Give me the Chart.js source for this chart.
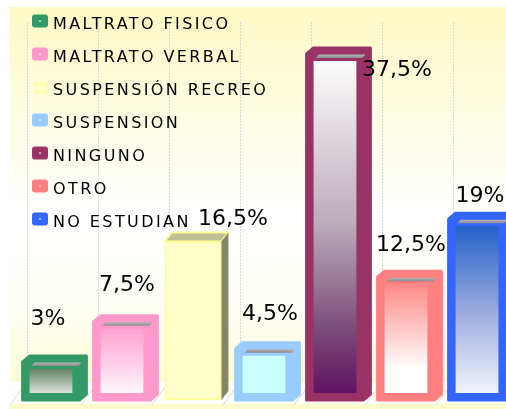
<!DOCTYPE html>
<html><head><meta charset="utf-8">
<script src="https://cdn.jsdelivr.net/npm/chart.js@4/dist/chart.umd.min.js"></script>
<style>html,body{margin:0;padding:0;background:#fff;overflow:hidden;width:506px;height:409px}canvas{display:block}</style>
</head><body><canvas id="c" width="520" height="409"></canvas>
<script>
// ---- data ----
const categories = ['MALTRATO FISICO','MALTRATO VERBAL','SUSPENSIÓN RECREO','SUSPENSION','NINGUNO','OTRO','NO ESTUDIAN'];
const values = [3, 7.5, 16.5, 4.5, 37.5, 12.5, 19];
// ---- styles ----
const borderColors = ['#339966','#ff99cc','#ffff99','#99ccff','#993366','#ff8080','#3366ff'];
const gradStops = [
  [[0,'#3f6a3f'],[1,'#ffffff']],
  [[0,'#ff99cc'],[1,'#ffffff']],
  [[0,'#ffffcc'],[1,'#ffffcc']],
  [[0,'#ccffff'],[1,'#ccffff']],
  [[0,'#ffffff'],[0.5,'#b9aab8'],[0.8,'#7a4a78'],[1,'#5e0c60']],
  [[0,'#ff8080'],[0.75,'#ffffff'],[1,'#ffffff']],
  [[0,'#1a5cc6'],[0.5,'#98a9de'],[1,'#fafafc']]
];
const borderWidths = [7,7,2,7,7,7,7];
const labelDx = [-3,5,40,6,62,5,3];
const labelDy = [-31,-25,-10,-23,28,-20,-11];
const Y_MIN = -1.25, Y_MAX = 41;
const DEPTH = 7, RISE = 6, WALL = 11;

function fmt(v){ return String(v).replace('.', ',') + '%'; }

const bg3d = {
  id:'bg3d',
  beforeDraw(chart){
    const c = chart.ctx, xs = chart.scales.x;
    c.save();
    c.fillStyle = '#ffffff'; c.fillRect(0,0,chart.width,chart.height);
    const g = c.createLinearGradient(0,7,0,382);
    g.addColorStop(0,'#fcfac4'); g.addColorStop(0.55,'#ffffff'); g.addColorStop(0.8,'#fffff6'); g.addColorStop(1,'#fdfbd6');
    c.fillStyle = g; c.fillRect(10,7,chart.width-10,375);
    c.fillStyle = '#fffffa'; c.fillRect(10,382,chart.width-10,22);
    c.fillStyle = '#fdfbcc'; c.fillRect(10,404,chart.width-10,5);
    const half = (xs.getPixelForValue(1)-xs.getPixelForValue(0))/2;
    c.strokeStyle = '#d8d8d8'; c.lineWidth = 1;
    for (let i=0;i<categories.length;i++){
      const b = Math.round(xs.getPixelForValue(i)-half);
      c.setLineDash([2,1]);
      c.beginPath(); c.moveTo(b+WALL+0.5,22); c.lineTo(b+WALL+0.5,382); c.stroke();
      c.setLineDash([]);
      c.beginPath(); c.moveTo(b+WALL,382); c.lineTo(b-6,405); c.stroke();
    }
    c.restore();
  },
  beforeDatasetsDraw(chart){
    const c = chart.ctx, meta = chart.getDatasetMeta(0);
    c.save();
    meta.data.forEach((el,i)=>{
      const p = el.getProps(['x','y','base','width'], true);
      const L = p.x-p.width/2, R = p.x+p.width/2, T = p.y, B = p.base;
      if (borderWidths[i] < 4){
        c.beginPath(); c.moveTo(L,T); c.lineTo(L+DEPTH,T-RISE-3); c.lineTo(R+DEPTH,T-RISE-3); c.lineTo(R,T); c.closePath();
        c.fillStyle = '#bfbf96'; c.fill(); c.strokeStyle = borderColors[i]; c.lineWidth = 2; c.stroke();
        c.beginPath(); c.moveTo(R,T); c.lineTo(R+DEPTH,T-RISE-3); c.lineTo(R+DEPTH,B-RISE-3); c.lineTo(R,B); c.closePath();
        c.fillStyle = '#858568'; c.fill();
      } else {
        c.beginPath(); c.moveTo(L,T); c.lineTo(L+DEPTH,T-RISE); c.lineTo(R+DEPTH,T-RISE); c.lineTo(R+DEPTH,B-RISE); c.lineTo(R,B); c.lineTo(L,B); c.closePath();
        c.fillStyle = borderColors[i]; c.strokeStyle = borderColors[i]; c.lineWidth = 3; c.lineJoin = 'round';
        c.fill(); c.stroke();
      }
    });
    c.restore();
  },
  afterDatasetsDraw(chart){
    const c = chart.ctx, meta = chart.getDatasetMeta(0);
    c.save();
    meta.data.forEach((el,i)=>{
      const p = el.getProps(['x','y','base','width'], true);
      const L = p.x-p.width/2, R = p.x+p.width/2, T = p.y;
      if (borderWidths[i] >= 4){
        const g = c.createLinearGradient(0,T-1,0,T+4);
        g.addColorStop(0,'#c8c8c8'); g.addColorStop(1,'#8c8c8c');
        c.fillStyle = g;
        c.beginPath(); c.moveTo(L+9,T+4); c.lineTo(L+12,T+0.5); c.lineTo(R+2,T+0.5); c.lineTo(R-1,T+4); c.closePath(); c.fill();
      }
    });
    c.font = '22px "DejaVu Sans"'; c.fillStyle = '#000'; c.textAlign = 'center'; c.textBaseline = 'alphabetic';
    meta.data.forEach((el,i)=>{
      const p = el.getProps(['x','y'], true);
      c.fillText(fmt(values[i]), p.x+labelDx[i], p.y-RISE+labelDy[i]);
    });
    categories.forEach((name,i)=>{
      const cy = 22.5 + i*33;
      if (borderWidths[i] < 4){
        c.beginPath(); c.roundRect(35.5, cy-5, 11, 9, 1);
        c.fillStyle = '#ffffd0'; c.fill(); c.strokeStyle = borderColors[i]; c.lineWidth = 2; c.stroke();
      } else {
        c.beginPath(); c.roundRect(32, cy-8, 16, 13, 3);
        c.fillStyle = borderColors[i]; c.fill();
        c.fillStyle = 'rgba(255,255,255,0.55)'; c.fillRect(39, cy-2.5, 2, 2);
      }
      c.font = '16px "DejaVu Sans"'; c.textAlign = 'left'; c.fillStyle = '#000';
      c.letterSpacing = '2.4px';
      c.fillText(name, 53, cy+6);
      c.letterSpacing = '0px';
    });
    c.restore();
  }
};

new Chart(document.getElementById('c'), {
  type:'bar',
  data:{
    labels: categories,
    datasets:[{
      data: values,
      base: Y_MIN,
      borderColor: borderColors,
      borderWidth: borderWidths,
      borderSkipped: false,
      borderRadius: 3,
      barPercentage: 0.8,
      categoryPercentage: 1,
      backgroundColor(ctx){
        const ch = ctx.chart, ys = ch.scales.y;
        if (!ch.chartArea || !ys) return borderColors[ctx.dataIndex];
        const top = ys.getPixelForValue(values[ctx.dataIndex]), bot = ys.getPixelForValue(Y_MIN);
        const g = ch.ctx.createLinearGradient(0, top, 0, bot);
        gradStops[ctx.dataIndex].forEach(s=>g.addColorStop(s[0], s[1]));
        return g;
      }
    }]
  },
  plugins:[bg3d],
  options:{
    responsive:false, animation:false, devicePixelRatio:1,
    layout:{padding:{left:15.5,right:7.5,top:22.7,bottom:9}},
    plugins:{legend:{display:false}, tooltip:{enabled:false}},
    scales:{
      x:{display:false},
      y:{display:false, min:Y_MIN, max:Y_MAX}
    }
  }
});
</script></body></html>
